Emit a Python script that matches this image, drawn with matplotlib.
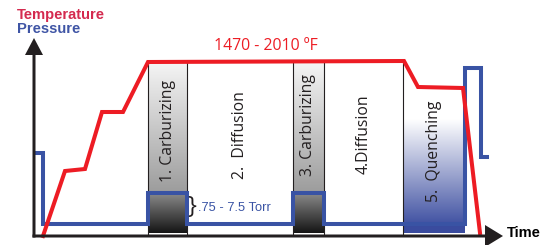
import numpy as np
import matplotlib
matplotlib.use("Agg")
from matplotlib import pyplot as plt
from matplotlib.colors import to_rgb

# temperature profile (red) - time vs. temperature level
temp_t = [9, 31, 51, 68, 89, 114, 370, 384, 429, 446]
temp_v = [0, 65, 67, 124, 124, 174, 175, 149, 148, 3]

# pressure profile (blue)
press_t = [2, 9, 9, 114, 114, 153, 153, 259, 259, 290, 290, 431, 431, 447, 447, 453]
press_v = [83, 83, 12, 12, 43, 43, 12, 12, 43, 43, 12, 12, 168, 168, 79, 79]

# process stages
stage_edges = [114, 153, 259, 290, 369, 431]
stage_names = ["1. Carburizing", "2.  Diffusion", "3. Carburizing", "4.Diffusion", "5.  Quenching"]
stage_kind = ["carb", "diff", "carb", "diff", "quench"]

temp_range = "1470 - 2010 \u00baF"
press_range = ".75 - 7.5 Torr"

RED = "#ed1c24"
BLUE = "#3953a4"
DARK = "#231f20"
FONT = "Open Sans"


def vgrad(ax, x0, x1, y0, y1, c_top, c_bot, z=1):
    top = np.array(to_rgb(c_top))
    bot = np.array(to_rgb(c_bot))
    f = np.linspace(0, 1, 200)[:, None]
    img = (top * (1 - f) + bot * f)[:, None, :]
    ax.imshow(img, extent=(x0, x1, y0, y1), origin="upper", aspect="auto",
              interpolation="bilinear", zorder=z)


fig = plt.figure(figsize=(5.48, 2.45), dpi=100)
ax = fig.add_axes([0, 0, 1, 1])
ax.axis("off")

top = 175
box_top = 43
for i, kind in enumerate(stage_kind):
    x0, x1 = stage_edges[i], stage_edges[i + 1]
    if kind == "carb":
        vgrad(ax, x0, x1, box_top, top, "#f6f6f6", "#9c9c9c")
        vgrad(ax, x0, x1, 2.5, box_top, "#8e8e8e", "#141414")
    elif kind == "quench":
        vgrad(ax, x0, x1, 12, 116, "#ffffff", "#4253a3")
        ax.fill_between([x0, x1], 2.5, 12, color="#3a4b9e", lw=0, zorder=1)

for x in stage_edges[:-1]:
    ax.plot([x, x], [2.5, top], color=DARK, lw=0.8, zorder=2)

label_y = [105, 101, 111, 102, 85]
for i, name in enumerate(stage_names):
    xc = (stage_edges[i] + stage_edges[i + 1]) / 2
    ax.text(xc, label_y[i], name, rotation=90, ha="center", va="center",
            fontsize=11.3, color=DARK, family=FONT, zorder=5)

ax.plot(press_t, press_v, color=BLUE, lw=2.9, solid_joinstyle="miter", zorder=3)
ax.plot(temp_t, temp_v, color=RED, lw=2.9, solid_joinstyle="miter", zorder=4)

# axes arrows
ax.arrow(-1.5, 0, 470.5, 0, width=3, head_width=22, head_length=18,
         length_includes_head=True, color=DARK, lw=0, zorder=6)
ax.arrow(0, -1.5, 0, 199.5, width=3, head_width=18, head_length=17,
         length_includes_head=True, color=DARK, lw=0, zorder=6)

ax.text(-17, 220.5, "Temperature", color="#d42a4f", fontsize=10.6, fontweight="bold",
        family="Liberation Sans", ha="left", va="center")
ax.text(-17, 207, "Pressure", color="#3f55a5", fontsize=10.6, fontweight="bold",
        family="Liberation Sans", ha="left", va="center")
ax.text(473, 3, "Time", color="black", fontsize=10.5, fontweight="bold",
        family="Liberation Sans", ha="left", va="center")
ax.text(265.5 - 34, 190, temp_range, color=RED, fontsize=11.4, family=FONT,
        ha="center", va="center")
ax.text(164, 28, press_range, color=BLUE, fontsize=9.3, family="Liberation Sans",
        ha="left", va="center")
ax.text(158, 29, "}", color=DARK, fontsize=17, family=FONT, ha="center", va="center")

ax.set_xlim(-34, 514)
ax.set_ylim(-9, 236)
fig.savefig("out.png", dpi=100)
